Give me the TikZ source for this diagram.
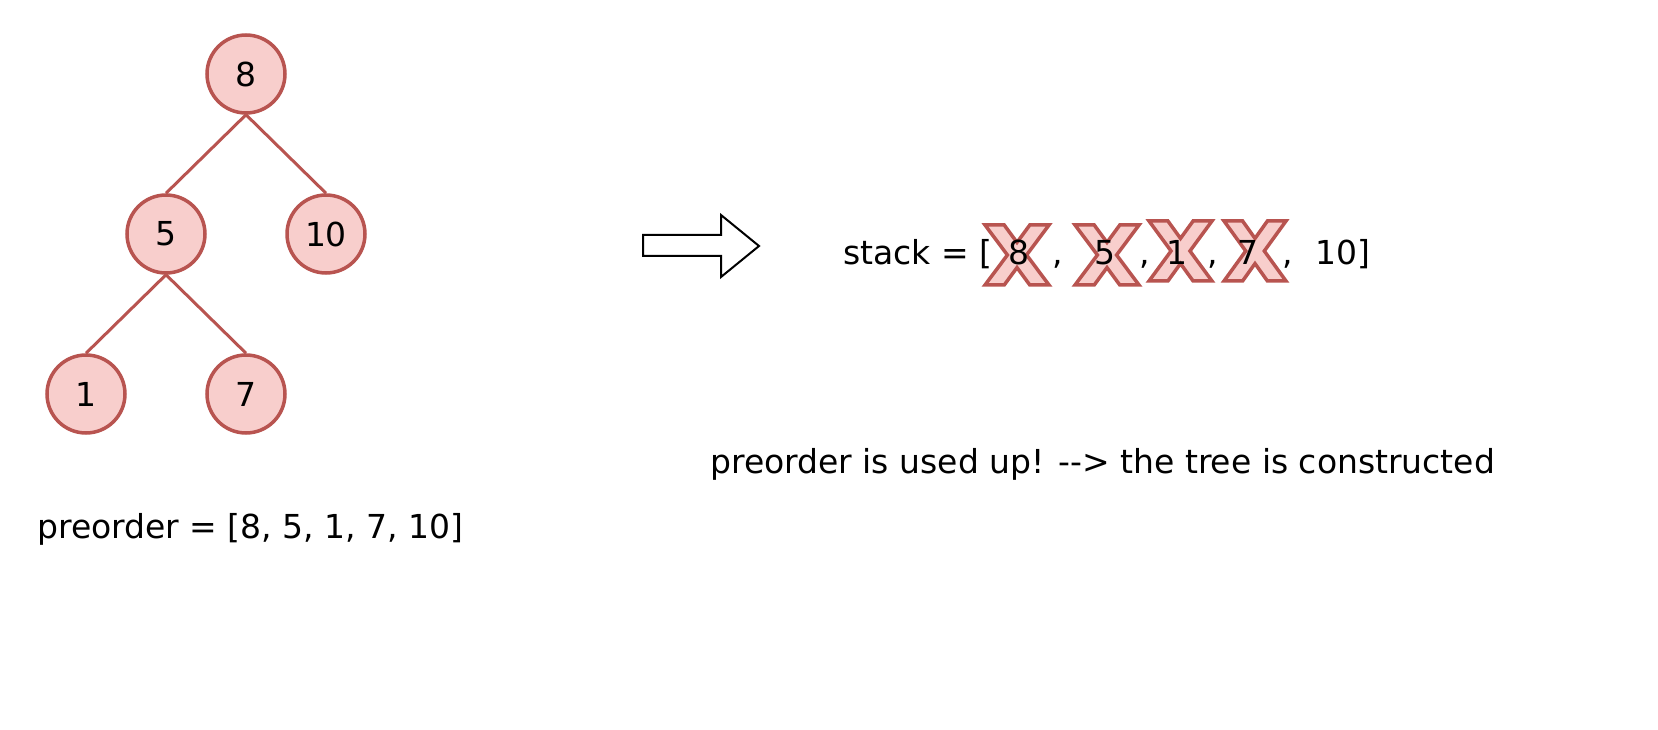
\documentclass[tikz,border=0pt]{standalone}
\usepackage{fontspec}
\setmainfont{DejaVu Sans}
\definecolor{xred}{HTML}{B85450}
\definecolor{xpink}{HTML}{F8CECC}
\newcommand\mainfs{\fontsize{33pt}{38pt}\selectfont}
\tikzset{
  tn/.style={circle, draw=xred, fill=xpink, line width=3.5pt, minimum size=78pt, inner sep=0pt, font=\mainfs},
  tedge/.style={draw=xred, line width=3pt},
  lbl/.style={inner sep=0pt, anchor=base west, font=\mainfs},
  dig/.style={inner sep=0pt, anchor=base, font=\mainfs},
  xshape/.style={draw=xred, fill=xpink, line width=3.5pt, line join=miter},
  bigarrow/.style={draw=black, fill=white, line width=2pt, line join=miter},
}
\newcommand\crossmark[4]{%
  \begin{scope}[shift={(#1,#2)}, xscale=#3, yscale=#4]
    \path[xshape] (0,0) -- (0.3,0) -- (0.5,0.29) -- (0.7,0) -- (1,0) -- (0.65,0.5)
      -- (1,1) -- (0.7,1) -- (0.5,0.71) -- (0.3,1) -- (0,1) -- (0.35,0.5) -- cycle;
  \end{scope}}
\begin{document}
\begin{tikzpicture}[x=1pt, y=-1pt]
  \useasboundingbox (0,0) rectangle (1658,730);
  % tree
  \node[tn] (n8)  at (246,74)  {8};
  \node[tn] (n5)  at (166,234) {5};
  \node[tn] (n10) at (326,234) {10};
  \node[tn] (n1)  at (86,394)  {1};
  \node[tn] (n7)  at (246,394) {7};
  \draw[tedge] (n8.south) -- (n5.north);
  \draw[tedge] (n8.south) -- (n10.north);
  \draw[tedge] (n5.south) -- (n1.north);
  \draw[tedge] (n5.south) -- (n7.north);
  \node[lbl] (pre) at (37,538) {preorder = [8, 5, 1, 7, 10]};
  % arrow
  \path[bigarrow] (643,235) -- (721,235) -- (721,215) -- (759,246) -- (721,277)
    -- (721,256) -- (643,256) -- cycle;
  % stack
  \node[lbl] (st) at (843,265) {stack = [};
  \crossmark{985}{225}{64}{60}
  \crossmark{1075}{225}{64}{60}
  \crossmark{1149}{221}{63}{60}
  \crossmark{1224}{221}{62}{60}
  \node[dig] (s8) at (1019,265) {8};
  \node[dig] (c1) at (1058,265) {,};
  \node[dig] (s5) at (1105,265) {5};
  \node[dig] (c2) at (1145,265) {,};
  \node[dig] (s1) at (1177,265) {1};
  \node[dig] (c3) at (1213,265) {,};
  \node[dig] (s7) at (1248,265) {7};
  \node[dig] (c4) at (1288,265) {,};
  \node[lbl] (s10) at (1315,265) {10]};
  % message
  \node[lbl] (msg) at (710,473) {preorder is used up! -{}-> the tree is constructed};
\end{tikzpicture}
\end{document}
